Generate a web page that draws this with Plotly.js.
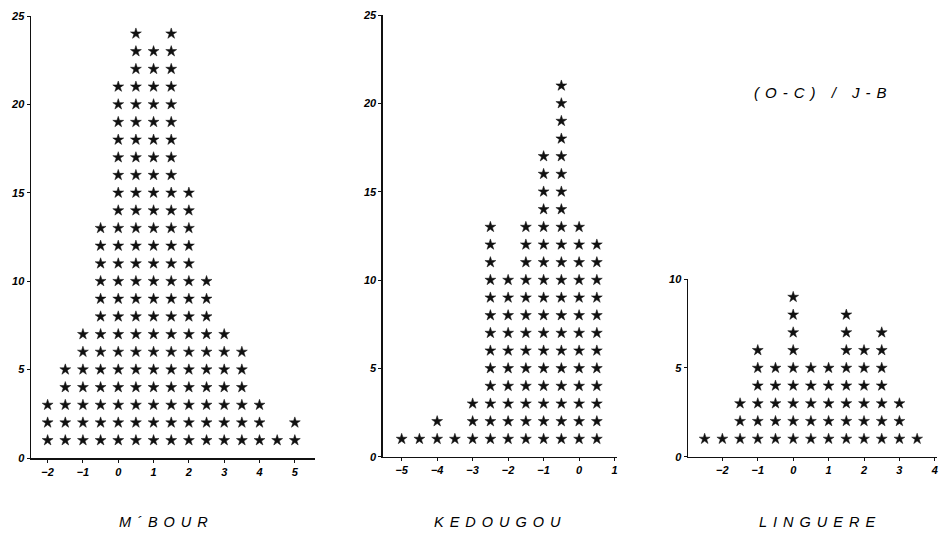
<!DOCTYPE html>
<html>
<head>
<meta charset="utf-8">
<script src="https://cdn.plot.ly/plotly-3.0.1.min.js"></script>
<style>
html,body{margin:0;padding:0;background:#fff;}
text.annotation-text{letter-spacing:6px;}
</style>
</head>
<body>
<div id="chart" style="width:943px;height:537px;"></div>
<script>
// M'BOUR
const mbourX = [-2, -1.5, -1, -0.5, 0, 0.5, 1, 1.5, 2, 2.5, 3, 3.5, 4, 4.5, 5];
const mbourN = [3, 5, 7, 13, 21, 24, 23, 24, 15, 10, 7, 6, 3, 1, 2];
// KEDOUGOU
const kedX = [-5, -4.5, -4, -3.5, -3, -2.5, -2, -1.5, -1, -0.5, 0, 0.5];
const kedN = [1, 1, 2, 1, 3, 13, 10, 13, 17, 21, 13, 12];
// LINGUERE
const linX = [-2.5, -2, -1.5, -1, -0.5, 0, 0.5, 1, 1.5, 2, 2.5, 3, 3.5];
const linN = [1, 1, 3, 6, 5, 9, 5, 5, 8, 6, 7, 3, 1];

const titles = ["M\u00B4BOUR", "KEDOUGOU", "LINGUERE"];
const note = "(O-C) / J-B";

function stack(xs, ns) {
  const px = [], py = [];
  xs.forEach((x, i) => { for (let k = 1; k <= ns[i]; k++) { px.push(x); py.push(k); } });
  return {px, py};
}

const marker = {symbol: 'star', size: 8.2, color: '#111', line: {width: 0.5, color: '#111'}};
const sets = [[mbourX, mbourN, 'x', 'y'], [kedX, kedN, 'x2', 'y2'], [linX, linN, 'x3', 'y3']];
const data = sets.map(s => {
  const st = stack(s[0], s[1]);
  return {x: st.px, y: st.py, xaxis: s[2], yaxis: s[3], type: 'scatter', mode: 'markers',
    marker: marker, hoverinfo: 'skip', showlegend: false};
});

const tickFont = {family: 'Liberation Sans, Arial, sans-serif', size: 11, color: '#000', style: 'italic', weight: 'bold'};
function xax(domain, range, anchor) {
  return {domain: domain, range: range, anchor: anchor, showline: true, linecolor: '#111', linewidth: 1.5,
    ticks: 'outside', ticklen: 3, tickwidth: 1, tickcolor: '#111', dtick: 1, tick0: 0,
    showgrid: false, zeroline: false, tickfont: tickFont, fixedrange: true};
}
function yax(domain, range, anchor, dtick) {
  return {domain: domain, range: range, anchor: anchor, showline: true, linecolor: '#111', linewidth: 1.5,
    ticks: 'outside', ticklen: 3, tickwidth: 1, tickcolor: '#111', dtick: dtick, tick0: 0,
    showgrid: false, zeroline: false, tickfont: tickFont, fixedrange: true};
}

const titleFont = {family: 'Liberation Sans, Arial, sans-serif', size: 14.5, color: '#000', style: 'italic'};
const noteFont = {family: 'Liberation Sans, Arial, sans-serif', size: 15, color: '#000', style: 'italic'};
const layout = {
  width: 943, height: 537,
  margin: {l: 0, r: 0, t: 0, b: 0},
  paper_bgcolor: '#fff', plot_bgcolor: '#fff',
  xaxis: xax([0.0329, 0.334], [-2.47, 5.57], 'y'),
  yaxis: yax([0.1471, 0.9702], [0, 25], 'x', 5),
  xaxis2: xax([0.406, 0.654], [-5.53, 1.06], 'y2'),
  yaxis2: yax([0.1496, 0.972], [0, 25], 'x2', 5),
  xaxis3: xax([0.7296, 0.9936], [-2.97, 4.06], 'y3'),
  yaxis3: yax([0.1496, 0.4799], [0, 10], 'x3', 5),
  annotations: [
    {text: titles[0], x: 166 / 943, y: 1 - 522 / 537, xref: 'paper', yref: 'paper', showarrow: false, font: titleFont, xanchor: 'center', yanchor: 'middle'},
    {text: titles[1], x: 501 / 943, y: 1 - 522 / 537, xref: 'paper', yref: 'paper', showarrow: false, font: titleFont, xanchor: 'center', yanchor: 'middle'},
    {text: titles[2], x: 820 / 943, y: 1 - 522 / 537, xref: 'paper', yref: 'paper', showarrow: false, font: titleFont, xanchor: 'center', yanchor: 'middle'},
    {text: note, x: 823 / 943, y: 1 - 92 / 537, xref: 'paper', yref: 'paper', showarrow: false, font: noteFont, xanchor: 'center', yanchor: 'middle'}
  ]
};

Plotly.newPlot('chart', data, layout, {displayModeBar: false, staticPlot: true});
</script>
</body>
</html>
